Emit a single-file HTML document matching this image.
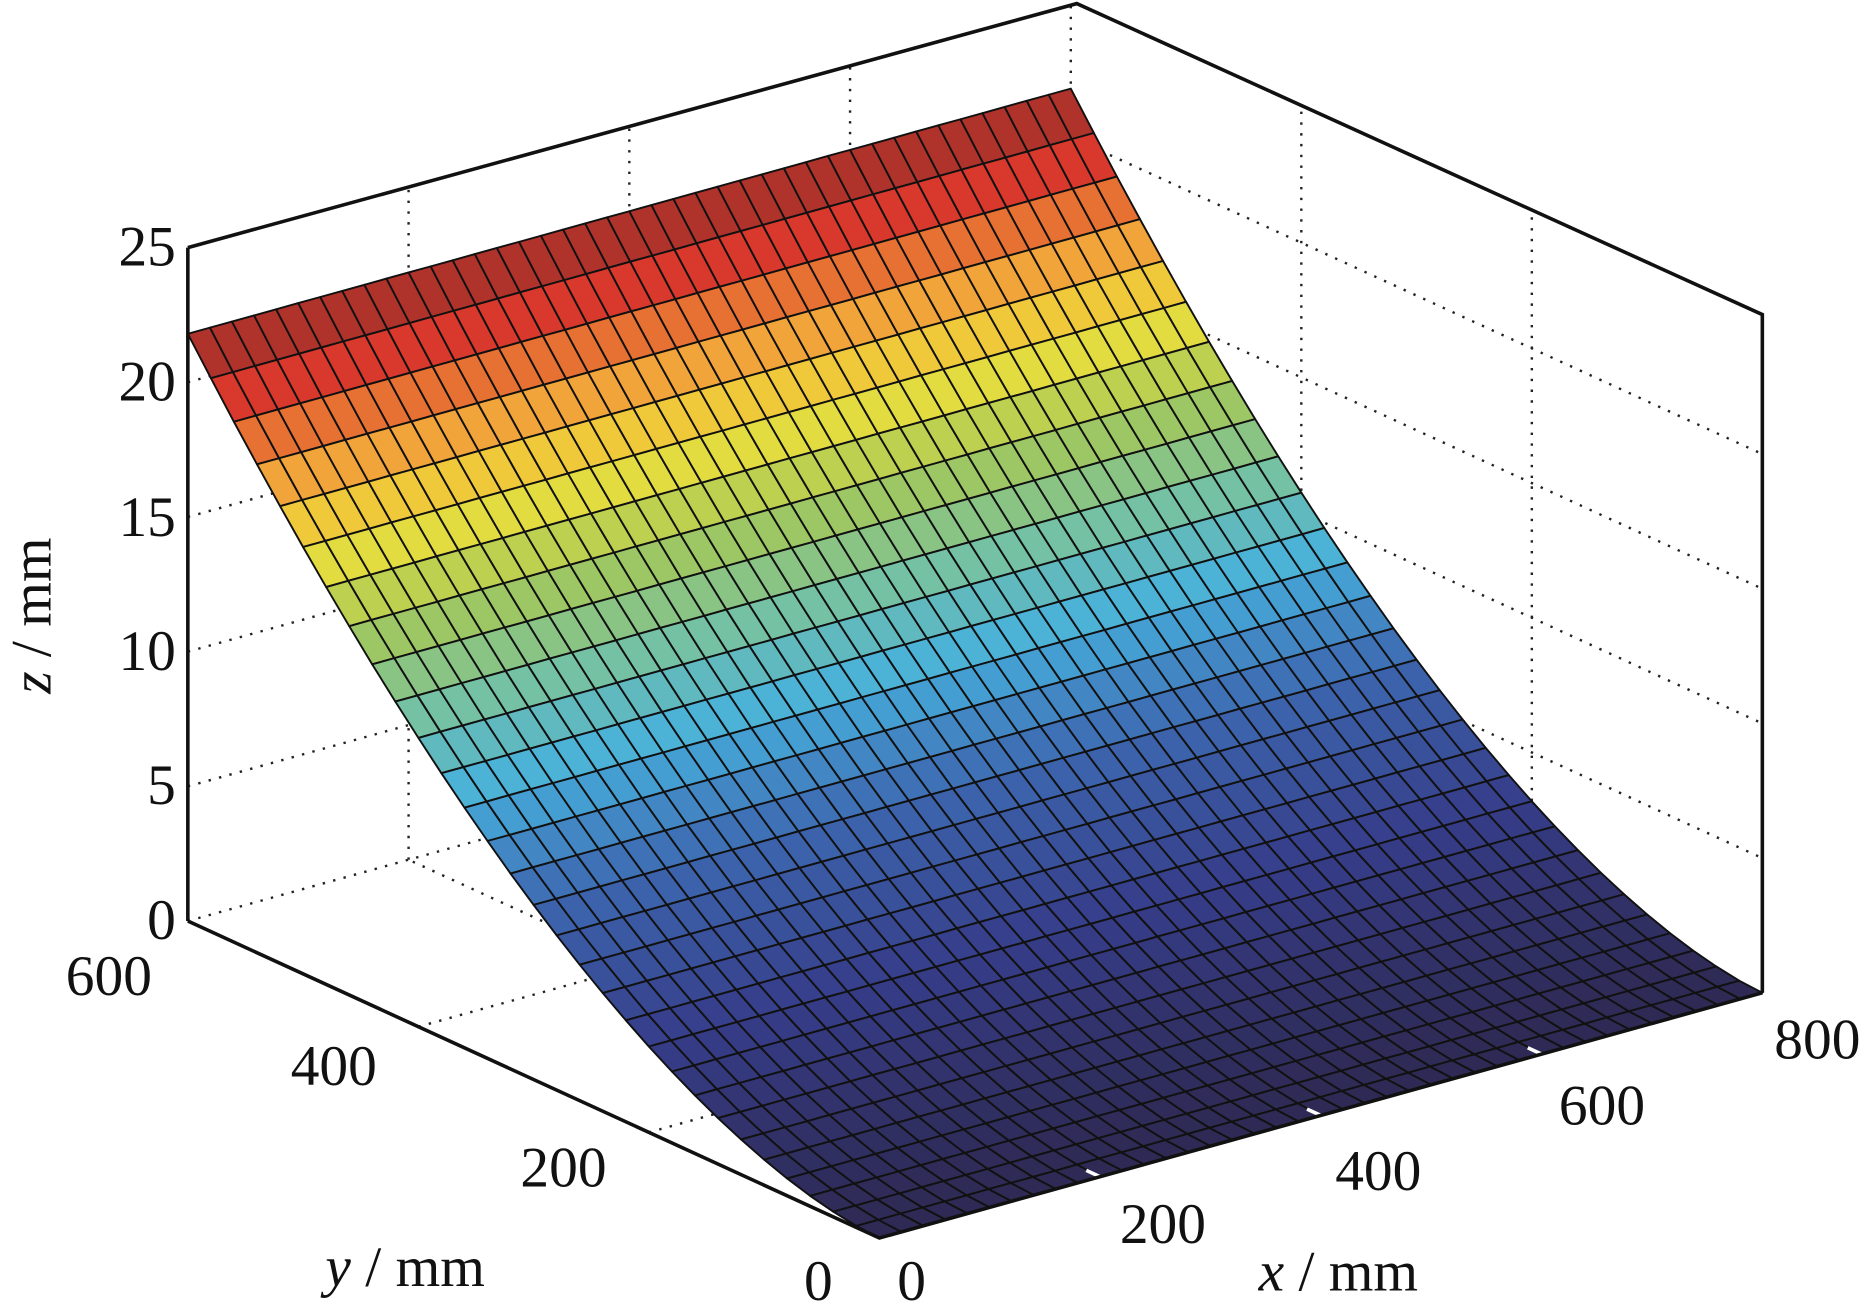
<!DOCTYPE html>
<html><head><meta charset="utf-8">
<style>
html,body{margin:0;padding:0;background:#fff;}
svg{display:block;}
text{font-family:"Liberation Serif",serif;font-size:48px;fill:#111;}
</style></head>
<body>
<svg id="s" width="1876" height="1305" viewBox="0 0 1568 1091" preserveAspectRatio="none" xmlns="http://www.w3.org/2000/svg">
<g id="grid" stroke="#222" stroke-width="2" stroke-dasharray="2,7" fill="none"></g>
<g id="surf" stroke="#111" stroke-width="1.6" stroke-linejoin="round"></g>
<g id="ticks" stroke="#fff" stroke-width="3"></g>
<g id="box" stroke="#111" stroke-width="3" fill="none">
<polyline points="157,207 900,3 1473,263 1473,830"/>
<line x1="157" y1="207" x2="157" y2="770"/>
<polyline points="157,770 735,1035 1473,830"/>
</g>
<g text-anchor="end">
<text x="147" y="222">25</text>
<text x="147" y="335">20</text>
<text x="147" y="448">15</text>
<text x="147" y="560">10</text>
<text x="147" y="672">5</text>
<text x="147" y="785">0</text>
</g>
<text x="55" y="832">600</text>
<text x="243" y="907">400</text>
<text x="435" y="992">200</text>
<text x="672" y="1087">0</text>
<text x="750" y="1087">0</text>
<text x="936" y="1039">200</text>
<text x="1116" y="995">400</text>
<text x="1303" y="940">600</text>
<text x="1483" y="885">800</text>
<text x="272" y="1075"><tspan font-style="italic">y</tspan> / mm</text>
<text x="1052" y="1079"><tspan font-style="italic">x</tspan> / mm</text>
<text transform="translate(42,580) rotate(-90)"><tspan font-style="italic">z</tspan> / mm</text>
</svg>
<script>
const O=[735,1035],X=[738/800,-205/800],Y=[-578/600,-265/600],Z=-563/25;
function P(x,y,z){return [O[0]+x*X[0]+y*Y[0],O[1]+x*X[1]+y*Y[1]+z*Z];}
function pt(a){return a[0].toFixed(1)+","+a[1].toFixed(1);}
const NS="http://www.w3.org/2000/svg";
function el(g,tag,attrs){const e=document.createElementNS(NS,tag);for(const k in attrs)e.setAttribute(k,attrs[k]);document.getElementById(g).appendChild(e);}
function line(g,a,b){el(g,"line",{x1:a[0],y1:a[1],x2:b[0],y2:b[1]});}
for(const x of [200,400,600]) line("grid",P(x,600,0),P(x,600,25));
line("grid",P(0,600,0),P(800,600,0));
line("grid",P(800,600,0),P(800,600,25));
for(const z of [5,10,15,20]){line("grid",P(0,600,z),P(800,600,z));line("grid",P(800,600,z),P(800,0,z));}
for(const y of [200,400]){line("grid",P(800,y,0),P(800,y,25));line("grid",P(0,y,0),P(800,y,0));}
for(const x of [200,400,600]) line("grid",P(x,0,0),P(x,600,0));
const st=[[0,"#2e2a55"],[0.15,"#363d8a"],[0.3,"#3d68b0"],[0.42,"#48b0dc"],[0.52,"#78c2a0"],[0.62,"#a4c85a"],[0.72,"#f0e03c"],[0.82,"#f09a38"],[0.91,"#dc382c"],[1,"#9c302a"]];
function hx(c){return [1,3,5].map(i=>parseInt(c.substr(i,2),16));}
function cm(t){t=Math.max(0,Math.min(1,t));for(let i=1;i<st.length;i++){if(t<=st[i][0]){const f=(t-st[i-1][0])/(st[i][0]-st[i-1][0]);const a=hx(st[i-1][1]),b=hx(st[i][1]);return "rgb("+a.map((v,j)=>Math.round(v+(b[j]-v)*f)).join(",")+")";}}return st[st.length-1][1];}
const nx=40,ny=30,zf=y=>21.8*Math.pow(y/600,1.75);
for(let j=ny-1;j>=0;j--){const y0=j*600/ny,y1=(j+1)*600/ny;const zc=(zf(y0)+zf(y1))/2;const c=cm(zc/21.8);
for(let i=0;i<nx;i++){const x0=i*800/nx,x1=(i+1)*800/nx;
el("surf","polygon",{points:[P(x0,y0,zf(y0)),P(x1,y0,zf(y0)),P(x1,y1,zf(y1)),P(x0,y1,zf(y1))].map(pt).join(" "),fill:c});}}
for(const x of [200,400,600]) line("ticks",P(x,0,0),P(x,12,0));
</script>
</body></html>
